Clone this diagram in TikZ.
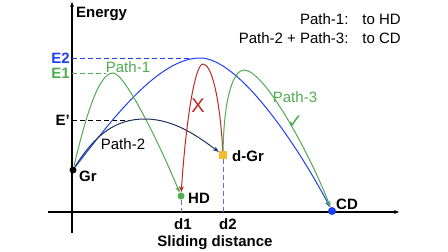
\documentclass[tikz,border=0pt]{standalone}
\usepackage{fontspec}
\setmainfont{Liberation Sans}
\newfontfamily\symfont{DejaVu Sans}
\usetikzlibrary{arrows.meta,positioning,calc}

\definecolor{eblue}{RGB}{30,64,245}
\definecolor{egreen}{RGB}{80,172,80}
\definecolor{ered}{RGB}{190,40,40}
\definecolor{enavy}{RGB}{30,50,95}
\definecolor{eorange}{RGB}{245,185,50}
\definecolor{edash}{RGB}{80,120,210}

\begin{document}
\begin{tikzpicture}[x=1pt,y=-1pt,
      font=\fontsize{15}{19}\selectfont,
      lbl/.style={font=\fontsize{15}{19}\selectfont\bfseries,inner sep=0pt},
      plbl/.style={inner sep=0pt},
      arr/.style={-{Stealth[length=6pt,width=4.5pt]},line width=1pt},
      axis/.style={-{Stealth[length=5pt,width=4pt]},line width=1.3pt},
      dot/.style={circle,fill,inner sep=0pt,minimum size=7pt},
      guide/.style={line width=1pt,dash pattern=on 5pt off 3pt}
    ]
      \useasboundingbox (0,0) rectangle (448,252);
      % axes
      \coordinate (xa) at (48,212);
      \coordinate (xb) at (399,212);
      \coordinate (ya) at (72,233);
      \coordinate (yb) at (72,2);
      \draw[axis] (xa) -- (xb);
      \draw[axis] (ya) -- (yb);
      % states
      \node[dot,black] (gr) at (73,170) {};
      \node[dot,egreen] (hd) at (181,196) {};
      \node[fill=eorange,inner sep=0pt,minimum size=8pt] (dgr) at (223,155) {};
      \node[dot,eblue,minimum size=8pt] (cd) at (332,211) {};
      % peaks
      \coordinate (pk1) at (113,73);
      \coordinate (pk2) at (200,58);
      \coordinate (pkp) at (145,119);
      \coordinate (pkr) at (203,64);
      \coordinate (pk3) at (244,70);
      % energy levels
      \draw[guide,eblue] (pk2 -| ya) -- (190,58);
      \draw[guide,egreen] (pk1 -| ya) -- (106,73);
      \draw[guide,black] (72,120) -- (130,120);
      \draw[guide,edash] (hd.south) -- (hd |- xa);
      \draw[guide,edash] (dgr.south) -- (dgr |- xa);
      % paths
      \draw[arr,eblue] (gr) .. controls (115,115) and (160,58) .. (pk2) .. controls (240,58) and (300,150) .. (cd);
      \draw[arr,egreen] (gr) .. controls (85,120) and (98,73) .. (pk1) .. controls (125,73) and (160,145) .. (hd);
      \draw[arr,enavy] (gr) .. controls (95,135) and (115,119) .. (pkp) .. controls (175,119) and (200,138) .. (dgr);
      \draw[arr,ered] (dgr) .. controls (220,100) and (212,64) .. (pkr) .. controls (195,64) and (186,120) .. (hd);
      \draw[arr,egreen] (dgr) .. controls (224,95) and (234,70) .. (pk3) .. controls (264,70) and (308,150) .. (cd);
      % labels
      \node[lbl,anchor=west] (energy) at (76,14) {Energy};
      \node[lbl,anchor=east,text=eblue] (e2) at (70,58) {E2};
      \node[lbl,anchor=east,text=egreen] (e1) at (70,73) {E1};
      \node[lbl,anchor=east] (ep) at (70,120) {E'};
      \node[lbl,anchor=west] (grlbl) at (79,176) {Gr};
      \node[lbl,anchor=west] (hdlbl) at (188,198) {HD};
      \node[lbl,anchor=west] (dgrlbl) at (232,156) {d-Gr};
      \node[lbl,anchor=west] (cdlbl) at (336,204) {CD};
      \node[lbl] (d1) at (183,224) {d1};
      \node[lbl] (d2) at (228,224) {d2};
      \node[lbl] (xlbl) at (215,243) {Sliding distance};
      \node[plbl,text=egreen] (p1) at (128,67) {Path-1};
      \node[plbl] (p2) at (123,144) {Path-2};
      \node[plbl,text=egreen] (p3) at (295,97) {Path-3};
      \node[plbl,text=ered,font=\fontsize{20}{20}\selectfont] (nope) at (198,106) {X};
      \node[plbl,text=egreen,font=\symfont\fontsize{20}{20}\selectfont] (ok) at (295,122) {✓};
      \node[plbl,anchor=north east,align=right] (legend) at (401,13)
        {Path-1:\hspace{14pt}to HD\\Path-2 + Path-3:\hspace{14pt}to CD};
    \end{tikzpicture}
\end{document}
